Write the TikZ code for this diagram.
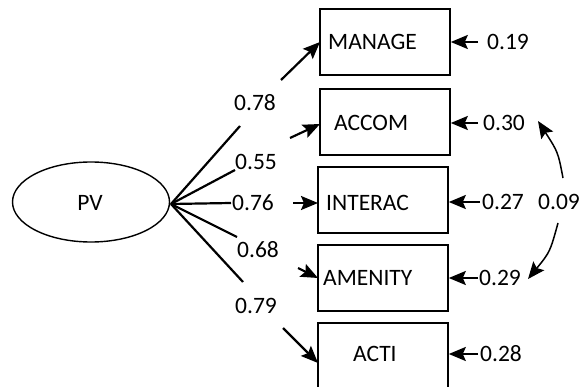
\documentclass[tikz,border=0pt]{standalone}
\usepackage{fontspec}
\setmainfont{Carlito}
\usetikzlibrary{arrows.meta,calc,shapes.geometric}
\begin{document}
\begin{tikzpicture}[x=1pt,y=-1pt,
  every node/.style={font=\fontsize{23.5}{27}\selectfont},
  boxnode/.style={draw,line width=1.6pt,minimum width=130pt,minimum height=66pt,inner sep=0pt},
  lab/.style={inner sep=0pt},
  ln/.style={line width=2.2pt},
  tip/.style={-{Stealth[length=17pt,width=14pt,inset=3pt]}},
  arr/.style={line width=2.2pt,tip}]
\useasboundingbox (0,0) rectangle (580,387);
\clip (0,0) rectangle (580,387);
\fill[white] (0,0) rectangle (580,387);
% latent
\node[draw,ellipse,line width=1.4pt,minimum width=157pt,minimum height=80pt,inner sep=0pt] (pv) at (91,202) {};
\node[lab] (pvt) at (90,203) {PV};
% boxes
\node[boxnode] (manage) at (385,42) {};
\node[boxnode] (accom) at (385,122) {};
\node[boxnode] (interac) at (383,200) {};
\node[boxnode] (amenity) at (383,278) {};
\node[boxnode] (acti) at (383,356) {};
\node[lab,anchor=west] (tmanage) at (328,42) {MANAGE};
\node[lab,anchor=west] (taccom) at (334,123) {ACCOM};
\node[lab,anchor=west] (tinterac) at (326,203) {INTERAC};
\node[lab,anchor=west] (tamenity) at (323,278) {AMENITY};
\node[lab,anchor=west] (tacti) at (353,354) {ACTI};
% loadings
\node[lab] (l78) at (255,103) {0.78};
\node[lab] (l55) at (256,162) {0.55};
\node[lab] (l76) at (253,203) {0.76};
\node[lab] (l68) at (258,250) {0.68};
\node[lab] (l79) at (256,306) {0.79};
\coordinate (pvr) at (171,204);
\coordinate (a1) at (240,126); \coordinate (b1) at (281,80); \coordinate (e1) at (320,42);
\coordinate (a2) at (235,170); \coordinate (b2) at (290,138); \coordinate (e2) at (320,124);
\coordinate (a3) at (231,203); \coordinate (b3) at (293,203); \coordinate (e3) at (318,203);
\coordinate (a4) at (237,237); \coordinate (b4) at (298,268); \coordinate (e4) at (318,278);
\coordinate (a5) at (243,282); \coordinate (b5) at (283,328); \coordinate (e5) at (318,363);
\draw[ln] (pvr) -- (a1); \draw[arr] (b1) -- (e1);
\draw[ln] (pvr) -- (a2); \draw[arr] (b2) -- (e2);
\draw[ln] (pvr) -- (a3); \draw[arr] (b3) -- (e3);
\draw[ln] (pvr) -- (a4); \draw[arr] (b4) -- (e4);
\draw[ln] (pvr) -- (a5); \draw[arr] (b5) -- (e5);
% residuals
\node[lab,anchor=west] (r19) at (487,42) {0.19};
\node[lab,anchor=west] (r30) at (483,123) {0.30};
\node[lab,anchor=west] (r27) at (482,202) {0.27};
\node[lab,anchor=west] (r29) at (479,278) {0.29};
\node[lab,anchor=west] (r28) at (480,354) {0.28};
\node[lab,anchor=west] (r09) at (538,202) {0.09};
\draw[arr,shorten <=9pt] (r19.west) -- (r19.west -| manage.east);
\draw[arr,shorten <=5pt] (r30.west) -- (r30.west -| accom.east);
\draw[arr,shorten <=2pt] (r27.west) -- (r27.west -| interac.east);
\draw[arr,shorten <=1pt] (r29.west) -- (r29.west -| amenity.east);
\draw[arr,shorten <=2pt] (r28.west) -- (r28.west -| acti.east);
% covariance
\coordinate (c1) at (563,178); \coordinate (c1e) at (538,121);
\coordinate (c2) at (558,223); \coordinate (c2e) at (528,279);
\draw[line width=1.5pt,tip] (c1) .. controls (558,152) .. (c1e);
\draw[line width=1.5pt,tip] (c2) .. controls (550,252) .. (c2e);
\end{tikzpicture}
\end{document}
